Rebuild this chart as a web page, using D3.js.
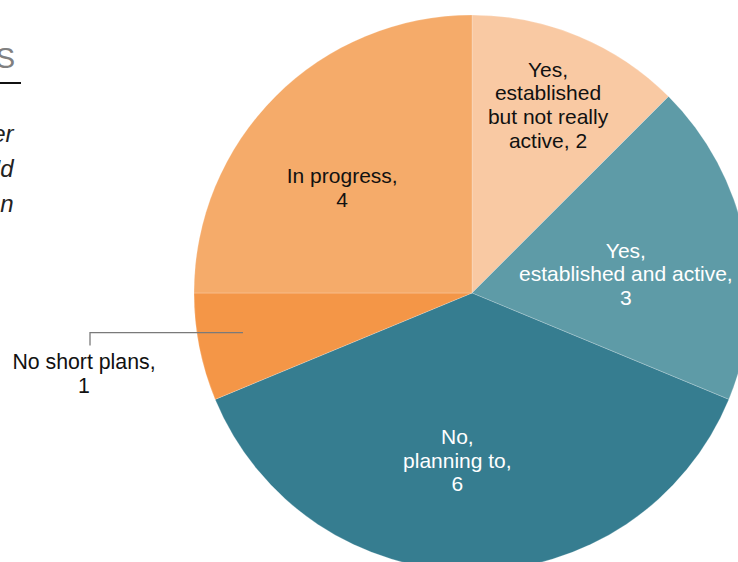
<!DOCTYPE html>
<html>
<head>
<meta charset="utf-8">
<script src="https://cdn.jsdelivr.net/npm/d3@7"></script>
<style>
  html, body { margin: 0; padding: 0; background: #fff; overflow: hidden; }
  svg { display: block; }
</style>
</head>
<body>
<svg id="chart" width="738" height="562"></svg>
<script>
// Survey answers, in clockwise order from 12 o'clock
const categories = [
  ["Yes,", "established", "but not really", "active, 2"],
  ["Yes,", "established and active,", "3"],
  ["No,", "planning to,", "6"],
  ["No short plans,", "1"],
  ["In progress,", "4"]
];
const counts = [2, 3, 6, 1, 4];
const sliceColors = ["#F9C9A3", "#5E9BA7", "#367D90", "#F49647", "#F5AB6A"];
const textColors = ["#111", "#fff", "#fff", "#111", "#111"];

// Heading and question text
const headingText = "COMMUNITY NETWORKS";
const questionLines = ["Has your school, or any other", "group you are part of, said it'd", "like to set up a network in your region"];

// Label anchor positions in polar form: [radius, angle in degrees from 12 o'clock]
const labelPolar = [[203, 22], [155, 83], [168, 185], [null, null], [167, 309]];

const svg = d3.select("#chart");
const cx = 472, cy = 293, R = 278;
const font = "Liberation Sans, Arial, Helvetica, sans-serif";

// Heading on the left edge
svg.append("text")
  .attr("x", 18).attr("y", 68)
  .attr("text-anchor", "end")
  .attr("font-family", font)
  .attr("font-size", 29)
  .attr("letter-spacing", 3)
  .attr("fill", "#808080")
  .text(headingText);
svg.append("line")
  .attr("x1", -300).attr("x2", 21).attr("y1", 83).attr("y2", 83)
  .attr("stroke", "#111").attr("stroke-width", 2);

svg.append("g").selectAll("text").data(questionLines).join("text")
  .attr("x", 13.5).attr("y", (d, i) => 142 + i * 35)
  .attr("text-anchor", "end")
  .attr("font-family", font)
  .attr("font-style", "italic")
  .attr("font-size", 24)
  .attr("fill", "#222")
  .text(d => d);

// Pie
const pie = d3.pie().sort(null).value(d => d)
  .startAngle(0).endAngle(2 * Math.PI);
const arcs = pie(counts);
const arc = d3.arc().innerRadius(0).outerRadius(R);

const g = svg.append("g").attr("transform", `translate(${cx},${cy})`);
g.selectAll("path").data(arcs).join("path")
  .attr("d", arc)
  .attr("fill", (d, i) => sliceColors[i])
  .attr("stroke", "rgba(255,255,255,0.35)")
  .attr("stroke-width", 0.6);

const fs = 21, lh = 23.7;

arcs.forEach((a, i) => {
  const lines = categories[i];
  let x, y;
  if (labelPolar[i][0] === null) {
    // Outside label with an elbow leader line
    const mid = (a.startAngle + a.endAngle) / 2;
    const px = cx + R * 0.84 * Math.sin(mid);
    const py = cy - R * 0.84 * Math.cos(mid) - 6;
    const lx = 90;
    svg.append("polyline")
      .attr("points", `${px},${py} ${lx},${py} ${lx},${py + 13}`)
      .attr("fill", "none").attr("stroke", "#7a7a7a").attr("stroke-width", 1.3);
    x = 84;
    const t = svg.append("text")
      .attr("text-anchor", "middle")
      .attr("font-family", font).attr("font-size", 21.3)
      .attr("fill", textColors[i]);
    lines.forEach((s, k) => t.append("tspan").attr("x", x).attr("y", py + 36 + k * 24).text(s));
    return;
  }
  const [r, deg] = labelPolar[i];
  const th = deg * Math.PI / 180;
  x = cx + r * Math.sin(th);
  y = cy - r * Math.cos(th);
  const t = svg.append("text")
    .attr("text-anchor", "middle")
    .attr("font-family", font).attr("font-size", fs)
    .attr("fill", textColors[i]);
  const y0 = y - (lines.length - 1) * lh / 2 + fs * 0.35;
  lines.forEach((s, k) => t.append("tspan").attr("x", x).attr("y", y0 + k * lh).text(s));
});
</script>
</body>
</html>
